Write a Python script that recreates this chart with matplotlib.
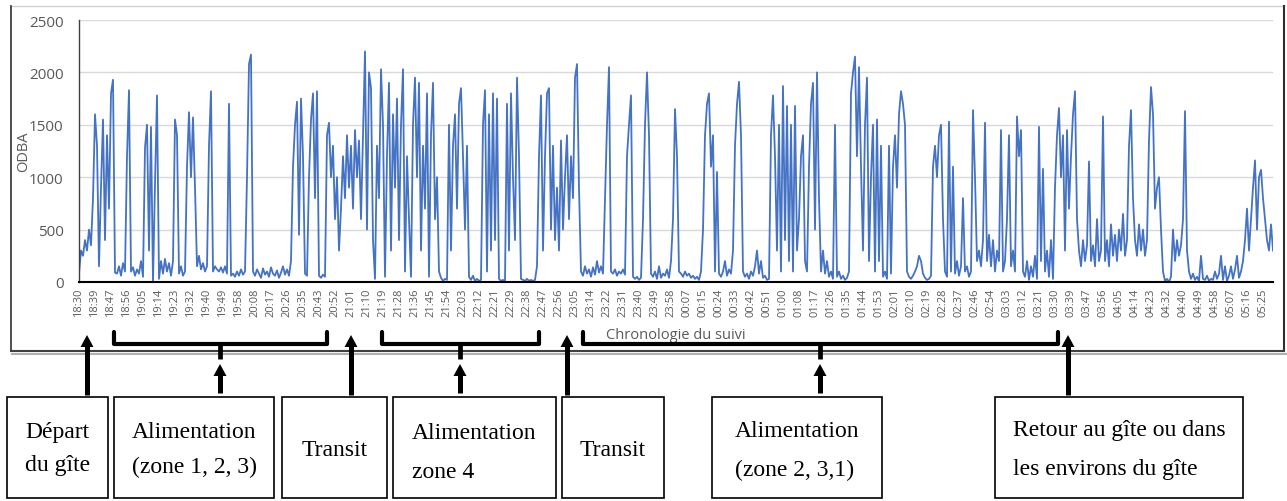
import matplotlib

matplotlib.use("Agg")
import matplotlib.pyplot as plt
import numpy as np
from matplotlib.lines import Line2D
from matplotlib.patches import Polygon, Rectangle

plt.rcParams["font.family"] = ["Open Sans", "DejaVu Sans"]

W, H = 1287, 502

# ODBA, one value every ~4.4 s, split by phase of the night
odba_depart = [80, 300, 250, 400, 300, 500, 350, 800, 1600, 1300, 150, 900, 1550,
               400, 1400, 700, 1800, 1930, 90]
odba_feed_1 = [80, 150, 60, 180, 100, 1200, 1830, 100,
               140, 60, 120, 80, 200, 50,
               1280, 1500, 300, 1480, 0, 940, 1780, 30,
               200, 80, 220, 100, 180, 60,
               200, 1550, 1400, 80, 150, 60, 100,
               1100, 1620, 1000, 1570, 900,
               150, 250, 120, 180, 100, 150,
               1300, 1820,
               100, 150, 120, 100, 140, 90, 150, 80,
               1700,
               60, 80, 50, 100, 60, 120, 70, 100,
               1000, 2080, 2170,
               100, 60, 120, 80, 40, 130, 70, 100, 50, 140, 80, 60, 110, 40, 90,
               150, 70, 120, 60, 200,
               1100, 1500, 1720, 450, 1750, 1200, 80,
               60, 1000, 1550, 1800, 800, 1820, 60,
               40, 70, 50]
odba_transit_1 = [1400, 1520, 1000, 1300, 600, 1000, 300, 700,
                  1200, 800, 1400, 900, 1300, 700, 1450, 1000, 1350, 600, 1400,
                  2200, 500, 2000, 1850, 400,
                  30, 1300, 800, 2030, 1500, 50, 1200, 1900, 300, 1600, 900, 1750,
                  400, 1500, 2030, 100, 1200, 600, 50, 1500, 1950, 1000, 1900, 300,
                  1300, 700, 1800, 50, 1400, 1900, 600, 1000, 100]
odba_feed_2 = [40, 10, 30, 20,
               1500, 300, 1300, 1600, 700, 1700, 1850, 1200, 500, 1300,
               50, 20, 60, 10, 30, 10, 20,
               1500, 1830, 100, 1600, 300, 1800, 400, 1750, 30,
               10, 20, 10,
               1700, 300, 1800, 1000, 400, 1950, 1200, 30,
               20, 10, 30, 10, 20, 10, 20, 150,
               1200, 1780, 300, 1200, 1800, 1850, 500, 1300]
odba_transit_2 = [400, 900, 300, 1350, 500, 1000, 1400, 600, 1200, 800, 1950, 2080, 900]
odba_feed_3 = [100, 60, 150, 80, 120, 50, 140, 70, 200, 90, 150, 80,
               800, 1500, 2050, 100,
               80, 120, 60, 100, 80, 120, 70,
               1200, 1500, 1780, 50,
               30, 50, 20, 40,
               600, 1500, 2000, 1400, 80,
               50, 100, 30, 150, 40, 80, 60, 120, 40, 200,
               600, 1650, 1200, 100,
               80, 50, 100, 60, 80, 40, 60, 30, 50, 20, 100,
               500, 1400, 1700, 1800, 1100, 1400, 100, 1050, 80,
               50, 100, 200, 60, 120, 80, 300,
               1300, 1700, 1910, 1400, 100,
               50, 80, 30, 100, 60, 150, 300, 80, 200, 40, 60, 20, 30,
               1400, 1780, 1200, 300, 1500, 100, 1870, 400, 1680, 200, 1500, 100,
               1680, 300, 600, 1200, 1400, 200, 100, 1100, 1700, 1900, 500, 2000,
               800, 100,
               300, 80, 200, 50, 100, 30, 1500, 50, 100, 30, 60, 20, 40, 100,
               1800, 2000, 2150, 1200, 2050, 1100, 300, 1500, 1950, 200, 1000, 1500,
               100, 1550, 200,
               1300, 50, 100, 30, 1300, 80,
               1100, 1400, 900, 1600, 1820, 1700, 1500, 100,
               50, 30, 60, 100, 150, 250, 200, 80, 40, 20, 30, 60,
               1100, 1300, 1000, 1400, 1500, 600, 100, 50,
               1530, 100, 1100, 80, 200, 60, 150, 800, 100,
               150, 50, 100, 1640, 1000, 200, 300, 150,
               400, 1520, 200,
               450, 150, 400, 100, 300, 200,
               1450, 100, 200, 600, 1400, 150, 300, 100,
               1580, 1200, 1450, 100,
               50, 200, 20, 150, 50, 250, 30,
               1480, 200, 1080, 100, 300, 50, 400, 30]
odba_return = [900, 1400, 1660, 1000, 1400, 300, 1450, 700, 1200, 1600, 1820, 600,
               300, 150, 400, 200, 350, 1150, 200,
               350, 150, 600, 200, 300, 1580, 200,
               400, 150, 550, 250, 450, 200, 500, 300, 650, 250, 400,
               1300, 1640, 800,
               400, 250, 550, 300, 500, 250, 400,
               1350, 1860, 1600, 700, 900, 1000, 500,
               100, 10, 30, 0, 50,
               500, 200, 400, 250, 350, 600, 1630, 300,
               100, 30, 80, 20, 50, 10, 250, 30, 20, 60, 10, 30,
               20, 100, 30, 80, 250, 20, 150, 10, 60, 150, 30, 120, 250, 40, 100, 200,
               400, 700, 300, 600, 900, 1160, 500, 1000, 1070, 800, 600, 400, 300,
               550, 300]

time_labels = [
    "18:30", "18:39", "18:47", "18:56", "19:05", "19:14", "19:23", "19:32",
    "19:40", "19:49", "19:58", "20:08", "20:17", "20:26", "20:35", "20:43",
    "20:52", "21:01", "21:10", "21:19", "21:28", "21:36", "21:45", "21:54",
    "22:03", "22:12", "22:21", "22:29", "22:38", "22:47", "22:56", "23:05",
    "23:14", "23:22", "23:31", "23:40", "23:49", "23:58", "00:07", "00:15",
    "00:24", "00:33", "00:42", "00:51", "01:00", "01:08", "01:17", "01:26",
    "01:35", "01:44", "01:53", "02:01", "02:10", "02:19", "02:28", "02:37",
    "02:46", "02:54", "03:03", "03:12", "03:21", "03:30", "03:39", "03:47",
    "03:56", "04:05", "04:14", "04:23", "04:32", "04:40", "04:49", "04:58",
    "05:07", "05:16", "05:25",
]
label_step = 8  # samples between two time labels

phase_texts = ["Départ\ndu gîte", "Alimentation\n(zone 1, 2, 3)", "Transit",
               "Alimentation\nzone 4", "Transit", "Alimentation\n(zone 2, 3,1)",
               "Retour au gîte ou dans\nles environs du gîte"]


def fx(x):
    return x / W


def fy(y):
    return 1 - y / H


def fig_line(fig, xs, ys, **kw):
    fig.add_artist(Line2D([fx(x) for x in xs], [fy(y) for y in ys],
                          transform=fig.transFigure, **kw))


def up_arrow(fig, x, y_base, y_tip):
    fig_line(fig, [x, x], [y_base, y_tip + 10], color="black", lw=3.6,
             solid_capstyle="butt")
    head = [(fx(x - 6.5), fy(y_tip + 12)), (fx(x + 6.5), fy(y_tip + 12)),
            (fx(x), fy(y_tip))]
    fig.add_artist(Polygon(head, closed=True, transform=fig.transFigure,
                           color="black", lw=0))


def bracket(fig, x0, x1, xm):
    fig_line(fig, [x0, x0, x1, x1], [333, 345, 345, 333], color="black", lw=3,
             solid_joinstyle="round", solid_capstyle="round")
    fig_line(fig, [xm, xm], [345, 360], color="black", lw=3.4,
             solid_capstyle="butt")


odba = np.array(odba_depart + odba_feed_1 + odba_transit_1 + odba_feed_2
                + odba_transit_2 + odba_feed_3 + odba_return)

fig = plt.figure(figsize=(W / 100, H / 100), dpi=100)

# chart frame
fig_line(fig, [11, 1284], [7, 7], color="#d0d0d0", lw=1)
fig_line(fig, [11, 11], [7, 352], color="#303030", lw=1.2)
fig_line(fig, [1284, 1284], [7, 352], color="#303030", lw=1.5)
fig_line(fig, [11, 1284], [352, 352], color="#404040", lw=1.5)
fig_line(fig, [12, 1286], [354.5, 354.5], color="#b0b0b0", lw=1.5)

ax = fig.add_axes([fx(79), fy(283), 1194 / W, 262 / H])
ax.plot(np.arange(len(odba)), odba, color="#4472C4", lw=1.3)
ax.set_xlim(0, len(odba) - 1)
ax.set_ylim(0, 2500)
ax.set_yticks(range(0, 2501, 500))
ax.set_xticks(np.arange(len(time_labels)) * label_step)
ax.set_xticklabels(time_labels, rotation=90, fontsize=8, color="#595959")
ax.tick_params(axis="y", length=0, pad=11, labelsize=11, labelcolor="#595959")
ax.tick_params(axis="x", length=0, pad=4)
ax.grid(axis="y", color="#d9d9d9", lw=1)
ax.set_axisbelow(True)
for side in ["top", "right"]:
    ax.spines[side].set_visible(False)
ax.spines["left"].set_color("#404040")
ax.spines["left"].set_linewidth(1.0)
ax.spines["bottom"].set_color("black")
ax.spines["bottom"].set_linewidth(1.5)

ax.set_ylabel("ODBA", fontsize=10.5, color="#595959")
ax.yaxis.set_label_coords((31 - 79) / 1194, 0.5)
ax.set_xlabel("Chronologie du suivi", fontsize=10.5, color="#595959")
ax.xaxis.set_label_coords(0.5, (283 - 328) / 262)

# phase brackets and arrows
bracket(fig, 114, 327, 220)
bracket(fig, 382, 539, 460)
bracket(fig, 583, 1058, 820)
for x in [220, 460, 820]:
    up_arrow(fig, x, 394, 365)
for x in [87, 351, 567, 1068]:
    up_arrow(fig, x, 396, 336)

# phase boxes
boxes = [(7, 108), (114, 274), (282, 387), (393, 556), (562, 664), (712, 882),
         (995, 1243)]
spacings = [1.8, 1.9, 1.2, 2.15, 1.2, 2.05, 2.15]
centers = [449, 450, 451, 453, 451, 451, 450]
for (x0, x1), txt, ls, yc in zip(boxes, phase_texts, spacings, centers):
    fig.add_artist(Rectangle((fx(x0), fy(499)), fx(x1 - x0), 101 / H,
                             transform=fig.transFigure, facecolor="white",
                             edgecolor="black", lw=1.2))
    fig.text(fx((x0 + x1) / 2), fy(yc), txt, ha="center", va="center",
             multialignment="left", family=["Liberation Serif", "DejaVu Serif"],
             fontsize=17, linespacing=ls)

fig.savefig("out.png", dpi=100)
